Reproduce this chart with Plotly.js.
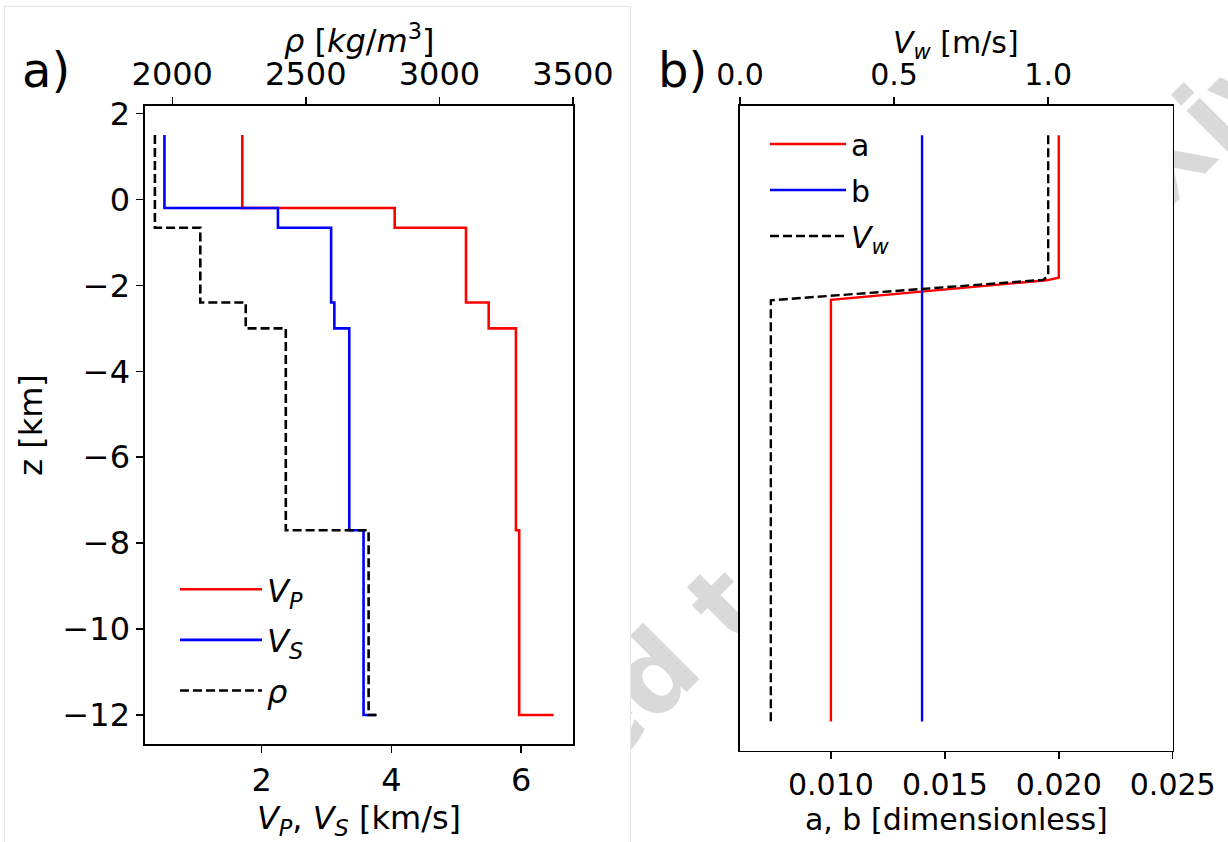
<!DOCTYPE html>
<html><head><meta charset="utf-8">
<script src="https://cdn.plot.ly/plotly-3.0.1.min.js"></script>
<style>
html,body{margin:0;padding:0;background:#fff;width:1228px;height:842px;overflow:hidden;}
#wm{position:absolute;left:0;top:0;font-family:"DejaVu Sans";font-weight:bold;font-size:105px;color:#d9d9d9;white-space:nowrap;transform-origin:0 0;line-height:1;}
#frame{position:absolute;left:4px;top:6px;width:627px;height:845px;border:1px solid #e4e4e4;box-sizing:border-box;background:#fff;}
#plot{position:absolute;left:0;top:0;width:1228px;height:842px;}
</style></head>
<body>
<div id="wm"><span id="wmpre">submitted </span>to EarthArXiv</div>
<div id="frame"></div>
<div id="plot"></div>
<script>
// ---- data ----
// left panel: layer interfaces (km) and values below each interface (step plot)
const zIf = [1.5, -0.2, -0.66, -2.4, -3.0, -7.7, -12];
const vp  = [1.7, 4.05, 5.15, 5.5, 5.92, 5.97, 6.5];      // km/s
const vs  = [0.5, 2.25, 3.07, 3.12, 3.35, 3.57, 3.76];    // km/s
const zRho = [1.5, -0.66, -2.4, -3.0, -7.7, -12];
const rho  = [1935, 2105, 2275, 2425, 2735, 2765];        // kg/m^3
// right panel
const zA = [1.5, -1.78, -1.84, -2.29, -12];
const aVal = [0.020, 0.020, 0.01946, 0.010, 0.010];
const zB = [1.5, -12];
const bVal = [0.014, 0.014];
const zVw = [1.5, -1.73, -1.83, -2.30, -12];
const vw  = [1.0, 1.0, 0.984, 0.1, 0.1];                  // m/s
// ticks
const zTicks = [2, 0, -2, -4, -6, -8, -10, -12];
const velTicks = [2, 4, 6];
const rhoTicks = [2000, 2500, 3000, 3500];
const abTicks = [0.010, 0.015, 0.020, 0.025];
const vwTicks = [0.0, 0.5, 1.0];

const F = '"DejaVu Sans", Verdana, sans-serif';
const W = 1228, H = 842;
const px = v => v / W, py = v => 1 - v / H;

const traces = [
  {x: vp, y: zIf, xaxis: 'x', yaxis: 'y', mode: 'lines', line: {color: '#ff0000', width: 2.6, shape: 'vh'},
   name: '<i>V</i><sub><i>P</i></sub>', legend: 'legend', legendgroup: 'g1'},
  {x: vs, y: zIf, xaxis: 'x', yaxis: 'y', mode: 'lines', line: {color: '#0000ff', width: 2.6, shape: 'vh'},
   name: '<i>V</i><sub><i>S</i></sub>', legend: 'legend', legendgroup: 'g2'},
  {x: rho, y: zRho, xaxis: 'x2', yaxis: 'y', mode: 'lines', line: {color: '#000000', width: 2.6, shape: 'vh', dash: '9px,4px'},
   name: '<i>ρ</i>', legend: 'legend', legendgroup: 'g3'},
  {x: aVal, y: zA, xaxis: 'x3', yaxis: 'y2', mode: 'lines', line: {color: '#ff0000', width: 2.4},
   name: 'a', legend: 'legend2', legendgroup: 'h1'},
  {x: bVal, y: zB, xaxis: 'x3', yaxis: 'y2', mode: 'lines', line: {color: '#0000ff', width: 2.4},
   name: 'b', legend: 'legend2', legendgroup: 'h2'},
  {x: vw, y: zVw, xaxis: 'x4', yaxis: 'y2', mode: 'lines', line: {color: '#000000', width: 2.4, dash: '9px,4px'},
   name: '<i>V</i><sub><i>w</i></sub>', legend: 'legend2', legendgroup: 'h3'}
];

const axBase = {showgrid: false, zeroline: false, showline: true, linecolor: '#000', linewidth: 1.6,
  ticks: 'outside', ticklen: 7, tickwidth: 1.5, tickcolor: '#000'};

const layout = {
  width: W, height: H, margin: {l: 0, r: 0, t: 0, b: 0},
  paper_bgcolor: 'rgba(0,0,0,0)', plot_bgcolor: '#ffffff',
  font: {family: F, color: '#000'},
  showlegend: true,
  xaxis: Object.assign({}, axBase, {domain: [px(145), px(573)], anchor: 'y', side: 'bottom',
    range: [0.2, 6.8], tickvals: velTicks, tickfont: {size: 32},
    title: {text: '<i>V</i><sub><i>P</i></sub>, <i>V</i><sub><i>S</i></sub> [km/s]', font: {size: 32}, standoff: 0}}),
  xaxis2: Object.assign({}, axBase, {overlaying: 'x', anchor: 'y', side: 'top',
    range: [1898, 3500], tickvals: rhoTicks, tickfont: {size: 32}}),
  yaxis: Object.assign({}, axBase, {domain: [py(744), py(106)], anchor: 'x', mirror: true,
    range: [-12.675, 2.175], tickvals: zTicks, tickfont: {size: 32},
    title: {text: 'z [km]', font: {size: 32}, standoff: 10}}),
  xaxis3: Object.assign({}, axBase, {domain: [px(740), px(1172.7)], anchor: 'y2', side: 'bottom',
    range: [0.00601, 0.025], tickvals: abTicks, tickformat: '.3f', tickfont: {size: 30},
    title: {text: 'a, b [dimensionless]', font: {size: 30}, standoff: 6}}),
  xaxis4: Object.assign({}, axBase, {overlaying: 'x3', anchor: 'y2', side: 'top',
    range: [0, 1.404], tickvals: vwTicks, tickformat: '.1f', tickfont: {size: 30}}),
  yaxis2: Object.assign({}, axBase, {domain: [py(750.7), py(106)], anchor: 'x3', mirror: true,
    range: [-12.675, 2.175], ticks: '', showticklabels: false}),
  legend: {x: px(175), y: py(562), xanchor: 'left', yanchor: 'top', bgcolor: 'rgba(0,0,0,0)',
    font: {size: 32}, itemwidth: 82, traceorder: 'grouped', tracegroupgap: 6, borderwidth: 0},
  legend2: {x: px(765), y: py(118), xanchor: 'left', yanchor: 'top', bgcolor: 'rgba(0,0,0,0)',
    font: {size: 30}, itemwidth: 76, traceorder: 'grouped', tracegroupgap: 4, borderwidth: 0},
  annotations: [
    // top-axis titles
    {text: '<i>ρ</i> [<i>kg</i>/<i>m</i><sup>3</sup>]', xref: 'paper', yref: 'paper', x: px(359), y: py(39),
     xanchor: 'center', yanchor: 'middle', showarrow: false, font: {size: 32}},
    {text: '<i>V</i><sub><i>w</i></sub> [m/s]', xref: 'paper', yref: 'paper', x: px(956), y: py(45),
     xanchor: 'center', yanchor: 'middle', showarrow: false, font: {size: 30}},
    // panel labels
    {text: 'a)', xref: 'paper', yref: 'paper', x: px(20), y: py(70), xanchor: 'left', yanchor: 'middle',
     showarrow: false, font: {size: 48}},
    {text: 'b)', xref: 'paper', yref: 'paper', x: px(656), y: py(70), xanchor: 'left', yanchor: 'middle',
     showarrow: false, font: {size: 48}}
  ]
};

Plotly.newPlot('plot', traces, layout, {displayModeBar: false, staticPlot: true});

// watermark placement (behind both panels, visible only in the margins)
(function () {
  const wm = document.getElementById('wm');
  const w = document.getElementById('wmpre').getBoundingClientRect().width;
  const fs = 105, deg = -45, th = deg * Math.PI / 180;
  const hx = w, hy = fs * 0.58;
  const rx = hx * Math.cos(th) - hy * Math.sin(th);
  const ry = hx * Math.sin(th) + hy * Math.cos(th);
  const T = [712, 628];
  wm.style.left = (T[0] - rx) + 'px';
  wm.style.top = (T[1] - ry) + 'px';
  wm.style.transform = 'rotate(' + deg + 'deg)';
})();
</script>
</body></html>
